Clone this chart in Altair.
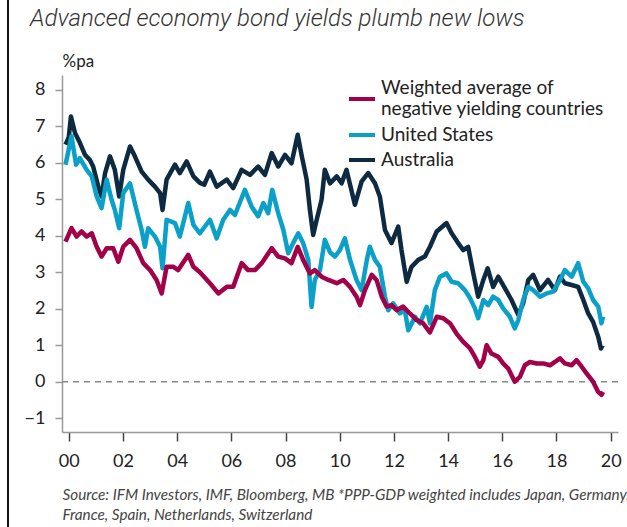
import altair as alt
import pandas as pd

SERIES = ["Weighted average of negative yielding countries", "United States", "Australia"]
COLORS = ["#a3004a", "#0aa0c8", "#0d2a40"]

aus_t = [1999.88, 2000.0, 2000.08, 2000.23, 2000.41, 2000.6, 2000.78, 2000.9, 2001.09, 2001.21, 2001.34, 2001.52,
         2001.7, 2001.86, 2002.01, 2002.26, 2002.44, 2002.69, 2002.93, 2003.18, 2003.37, 2003.46, 2003.61, 2003.92,
         2004.1, 2004.35, 2004.6, 2004.84, 2005.0, 2005.21, 2005.46, 2005.83, 2006.07, 2006.38, 2006.69, 2006.99,
         2007.24, 2007.49, 2007.73, 2007.98, 2008.22, 2008.45, 2008.59, 2008.78, 2008.9, 2009.02, 2009.15, 2009.33,
         2009.45, 2009.64, 2009.89, 2010.07, 2010.25, 2010.56, 2010.81, 2011.05, 2011.3, 2011.48, 2011.67, 2011.91,
         2012.16, 2012.28, 2012.47, 2012.65, 2012.9, 2013.14, 2013.33, 2013.58, 2013.94, 2014.13, 2014.37, 2014.56,
         2014.74, 2014.93, 2015.11, 2015.3, 2015.46, 2015.66, 2015.85, 2016.1, 2016.34, 2016.59, 2016.77, 2016.96,
         2017.14, 2017.39, 2017.69, 2017.94, 2018.13, 2018.31, 2018.56, 2018.8, 2018.99, 2019.17, 2019.35, 2019.54,
         2019.64, 2019.7]
aus_v = [6.5, 6.7, 7.27, 6.82, 6.55, 6.22, 6.08, 5.9, 5.35, 5.08, 5.72, 6.18,
         5.81, 5.08, 5.81, 6.45, 6.18, 5.76, 5.54, 5.35, 5.17, 4.71, 5.54, 5.95,
         5.72, 6.04, 5.63, 5.45, 5.4, 5.76, 5.35, 5.54, 5.31, 5.81, 5.67, 5.9,
         5.67, 6.27, 5.9, 6.22, 5.99, 6.77, 6.22, 5.54, 4.71, 4.02, 4.44, 4.99,
         5.81, 5.44, 5.63, 5.44, 5.81, 4.85, 5.49, 5.72, 5.44, 5.08, 4.16, 3.8,
         4.25, 3.61, 2.74, 3.15, 3.34, 3.43, 3.7, 4.12, 4.35, 4.07, 3.8, 3.61,
         3.7, 2.97, 2.33, 2.79, 3.11, 2.6, 2.88, 2.56, 2.24, 1.83, 2.15, 2.79,
         2.93, 2.51, 2.79, 2.51, 2.88, 2.7, 2.65, 2.6, 2.24, 1.87, 1.64, 1.23,
         0.91, 1.0]

us_t = [1999.88, 2000.1, 2000.27, 2000.41, 2000.66, 2000.85, 2001.03, 2001.21, 2001.4, 2001.58, 2001.7, 2001.86,
        2002.01, 2002.26, 2002.5, 2002.69, 2002.81, 2002.93, 2003.18, 2003.37, 2003.46, 2003.61, 2003.92, 2004.1,
        2004.41, 2004.6, 2004.84, 2005.21, 2005.46, 2005.7, 2005.95, 2006.13, 2006.5, 2006.75, 2006.99, 2007.18,
        2007.36, 2007.51, 2007.73, 2007.92, 2008.1, 2008.28, 2008.47, 2008.65, 2008.84, 2008.96, 2009.08, 2009.27,
        2009.45, 2009.64, 2009.82, 2010.0, 2010.19, 2010.38, 2010.62, 2010.81, 2011.0, 2011.11, 2011.3, 2011.48,
        2011.67, 2011.79, 2011.97, 2012.22, 2012.4, 2012.53, 2012.78, 2012.96, 2013.21, 2013.33, 2013.51, 2013.7,
        2013.94, 2014.13, 2014.37, 2014.62, 2014.8, 2014.99, 2015.11, 2015.3, 2015.48, 2015.66, 2015.85, 2016.03,
        2016.28, 2016.46, 2016.59, 2016.77, 2016.96, 2017.14, 2017.39, 2017.63, 2017.88, 2018.13, 2018.31, 2018.56,
        2018.8, 2018.99, 2019.17, 2019.35, 2019.54, 2019.66, 2019.72]
us_v = [5.95, 6.73, 5.95, 6.13, 5.81, 5.63, 5.08, 4.76, 5.54, 4.99, 4.71, 4.21,
        5.17, 5.44, 4.71, 4.16, 3.7, 4.21, 3.98, 3.7, 3.11, 4.44, 4.35, 3.98,
        4.9, 4.3, 4.07, 4.44, 3.93, 4.44, 4.71, 4.57, 5.26, 4.8, 4.53, 4.9,
        4.62, 5.26, 4.62, 4.16, 3.52, 3.8, 4.07, 3.8, 3.34, 2.05, 2.79, 3.06,
        3.89, 3.55, 3.43, 3.6, 3.93, 3.34, 2.79, 2.51, 3.34, 3.7, 3.34, 3.15,
        2.33, 1.96, 2.15, 1.87, 1.96, 1.41, 1.78, 1.6, 2.05, 1.6, 2.51, 2.88,
        2.97, 2.74, 2.7, 2.51, 2.3, 2.01, 1.74, 2.24, 2.1, 2.33, 2.24, 2.01,
        1.78, 1.46, 1.69, 2.24, 2.6, 2.51, 2.33, 2.42, 2.47, 2.79, 3.06, 2.88,
        3.25, 2.74, 2.56, 2.24, 2.06, 1.6, 1.78]

wavg_t = [1999.88, 2000.1, 2000.29, 2000.47, 2000.66, 2000.85, 2001.03, 2001.21, 2001.4, 2001.64, 2001.83, 2002.01,
          2002.26, 2002.5, 2002.75, 2003.0, 2003.24, 2003.43, 2003.61, 2003.86, 2004.04, 2004.41, 2004.6, 2004.84,
          2005.21, 2005.52, 2005.83, 2006.07, 2006.38, 2006.62, 2006.87, 2007.12, 2007.49, 2007.73, 2007.98, 2008.22,
          2008.45, 2008.65, 2008.9, 2009.08, 2009.33, 2009.58, 2009.89, 2010.13, 2010.38, 2010.62, 2010.75, 2010.93,
          2011.18, 2011.36, 2011.55, 2011.73, 2011.91, 2012.1, 2012.34, 2012.59, 2012.84, 2013.08, 2013.33, 2013.58,
          2013.82, 2014.07, 2014.31, 2014.56, 2014.8, 2014.99, 2015.17, 2015.3, 2015.42, 2015.6, 2015.85, 2016.03,
          2016.22, 2016.46, 2016.65, 2016.83, 2017.02, 2017.27, 2017.51, 2017.76, 2017.94, 2018.13, 2018.31, 2018.56,
          2018.74, 2018.93, 2019.11, 2019.35, 2019.54, 2019.66, 2019.72]
wavg_v = [3.84, 4.21, 3.98, 4.12, 3.98, 4.07, 3.7, 3.43, 3.66, 3.66, 3.29, 3.7,
          3.89, 3.66, 3.25, 3.06, 2.79, 2.42, 3.15, 3.15, 3.06, 3.48, 3.15, 3.0,
          2.7, 2.42, 2.6, 2.6, 3.25, 3.06, 3.06, 3.25, 3.66, 3.43, 3.38, 3.25,
          3.7, 3.34, 2.97, 3.06, 2.88, 2.79, 2.7, 2.79, 2.6, 2.33, 2.1, 2.51,
          2.93, 2.79, 2.33, 2.06, 2.1, 1.96, 2.06, 1.87, 1.69, 1.6, 1.35, 1.78,
          1.74, 1.6, 1.32, 1.09, 0.92, 0.68, 0.41, 0.59, 1.0, 0.77, 0.68, 0.5,
          0.36, 0.0, 0.13, 0.45, 0.54, 0.5, 0.5, 0.45, 0.54, 0.64, 0.5, 0.45,
          0.59, 0.41, 0.23, 0.0, -0.28, -0.36, -0.28]

x_ticks = list(range(2000, 2021, 2))
y_ticks = [-1, 0, 1, 2, 3, 4, 5, 6, 7, 8]
zero_line = [0]

TITLE = "Advanced economy bond yields plumb new lows"
SOURCE = ["Source: IFM Investors, IMF, Bloomberg, MB *PPP-GDP weighted includes Japan, Germany,",
          "France, Spain, Netherlands, Switzerland"]


def frame(names_vals):
    rows = []
    for name, ts, vs in names_vals:
        for i, (t, v) in enumerate(zip(ts, vs)):
            rows.append({"series": name, "year": t, "value": v, "order": i})
    return pd.DataFrame(rows)


df_main = frame([(SERIES[2], aus_t, aus_v), (SERIES[1], us_t, us_v)])
df_wavg = frame([(SERIES[0], wavg_t, wavg_v)])

FONT = "Lato"
Y_DOMAIN = [-1.38, 8.41]

x_enc = alt.X("year:Q",
              scale=alt.Scale(domain=[1999.75, 2020.27], nice=False, zero=False),
              axis=alt.Axis(values=x_ticks, format="d", labelExpr="substring(datum.label, 2)",
                            grid=False, domainColor="#999", domainWidth=1.5,
                            tickColor="#444", tickWidth=1.5, tickSize=9, labelOverlap=False,
                            labelFont=FONT, labelFontSize=18, labelColor="#222", labelPadding=11,
                            title=SOURCE, titleFont=FONT, titleFontStyle="italic", titleFontWeight="normal",
                            titleFontSize=15.3, titleColor="#444", titleAnchor="start", titleAlign="left",
                            titleX=0, titleY=55, titleBaseline="top", titleLineHeight=20))
y_axis = alt.Axis(values=y_ticks, grid=False, domainColor="#999", domainWidth=1.5,
                  tickColor="#999", tickWidth=1.5, tickSize=7, labelOverlap=False,
                  labelFont=FONT, labelFontSize=18, labelColor="#222", labelPadding=10,
                  title="%pa", titleAngle=0, titleAlign="left", titleBaseline="alphabetic",
                  titleX=0, titleY=-9, titleFont=FONT, titleFontSize=17,
                  titleFontWeight="normal", titleColor="#222")
y_enc = alt.Y("value:Q", scale=alt.Scale(domain=Y_DOMAIN, nice=False, zero=False), axis=y_axis)

legend_common = dict(title=None, orient="none", legendX=285,
                     symbolType="stroke", symbolSize=676, symbolStrokeWidth=4,
                     labelFont=FONT, labelFontSize=19, labelColor="#222",
                     labelOffset=4, labelLimit=400)

zero = alt.Chart(pd.DataFrame({"value": zero_line})).mark_rule(
    color="#888", strokeDash=[6, 5], strokeWidth=1.5
).encode(y=y_enc)

main_lines = alt.Chart(df_main).mark_line(strokeWidth=4.5, strokeJoin="round").encode(
    x=x_enc, y=y_enc,
    color=alt.Color("series:N",
                    scale=alt.Scale(domain=SERIES[1:], range=COLORS[1:]),
                    legend=alt.Legend(legendY=45, rowPadding=0, **legend_common)),
    order="order:Q",
    detail="series:N",
)

wavg_line = alt.Chart(df_wavg).mark_line(strokeWidth=4.5, strokeJoin="round").encode(
    x=x_enc, y=y_enc,
    color=alt.Color("series:N",
                    scale=alt.Scale(domain=SERIES[:1], range=COLORS[:1]),
                    legend=alt.Legend(legendY=9, labelBaseline="line-bottom",
                                      labelExpr="['Weighted average of', 'negative yielding countries']",
                                      **legend_common)),
    order="order:Q",
)

border = alt.Chart(pd.DataFrame({"a": [0]})).mark_rule(color="#111", strokeWidth=2).encode(
    x=alt.value(-54), y=alt.value(-80), y2=alt.value(460)
)

chart = alt.layer(zero, main_lines, wavg_line, border).resolve_scale(color="independent").properties(
    width=556, height=357,
    autosize=alt.AutoSizeParams(type="none"),
    padding={"left": 62, "top": 75, "right": 9, "bottom": 95},
    title=alt.TitleParams(TITLE, font="Roboto", fontStyle="italic", fontWeight=300, fontSize=24,
                          color="#333", anchor="start", baseline="alphabetic", dx=23, dy=66, offset=10),
).configure_view(stroke=None)

chart.save("out.html", embed_options={"renderer": "svg", "actions": False})
